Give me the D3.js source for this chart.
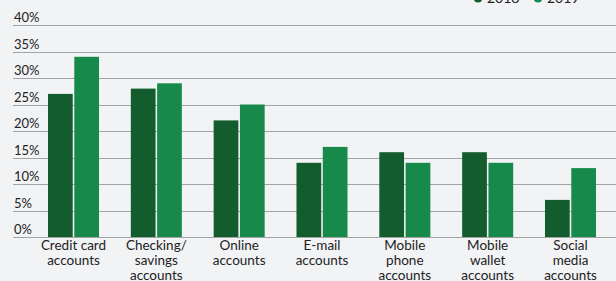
<!DOCTYPE html>
<meta charset="utf-8">
<style>
body { margin: 0; background: #f2f3f5; }
svg { display: block; font-family: "Lato", "Noto Sans", sans-serif; }
.grid line { stroke: #a3a3a3; stroke-width: 1; }
.ylab { font-size: 13px; fill: #222; }
.xlab { font-size: 13.5px; fill: #222; }
</style>
<svg width="616" height="281"></svg>
<script src="https://cdn.jsdelivr.net/npm/d3@7"></script>
<script>

// data
var categories = [
    ["Credit card", "accounts"],
    ["Checking/", "savings", "accounts"],
    ["Online", "accounts"],
    ["E-mail", "accounts"],
    ["Mobile", "phone", "accounts"],
    ["Mobile", "wallet", "accounts"],
    ["Social", "media", "accounts"]
];
var years = ["2018", "2019"];
var values2018 = [27, 28, 22, 14, 16, 16, 7];
var values2019 = [34, 29, 25, 17, 14, 14, 13];
var yTicks = [0, 5, 10, 15, 20, 25, 30, 35, 40];
var colors = ["#135c2d", "#178a4b"];

var svg = d3.select("svg");

var y = d3.scaleLinear().domain([0, 40]).range([237, 25]);

var x = d3.scaleBand()
    .domain(d3.range(categories.length))
    .range([32, 612])
    .paddingInner(0.384)
    .paddingOuter(0.193);

var x1 = d3.scaleBand()
    .domain(years)
    .range([0, x.bandwidth()])
    .paddingInner(0.06);

// grid lines + labels
var grid = svg.append("g").attr("class", "grid");
grid.selectAll("line")
    .data(yTicks)
    .enter().append("line")
    .attr("x1", 13).attr("x2", 616)
    .attr("y1", function(d) { return Math.round(y(d)) + 0.5; })
    .attr("y2", function(d) { return Math.round(y(d)) + 0.5; });

svg.append("g").selectAll("text")
    .data(yTicks)
    .enter().append("text")
    .attr("class", "ylab")
    .attr("x", 14)
    .attr("y", function(d) { return y(d) - 3; })
    .text(function(d) { return d + "%"; });

// bars
var rows = categories.map(function(c, i) {
    return { i: i, vals: [values2018[i], values2019[i]] };
});

var groups = svg.append("g").selectAll("g")
    .data(rows)
    .enter().append("g")
    .attr("transform", function(d) { return "translate(" + x(d.i) + ",0)"; });

groups.selectAll("rect")
    .data(function(d) { return d.vals.map(function(v, k) { return { year: years[k], v: v, k: k }; }); })
    .enter().append("rect")
    .attr("x", function(d) { return x1(d.year); })
    .attr("width", x1.bandwidth())
    .attr("y", function(d) { return y(d.v); })
    .attr("height", function(d) { return y(0) - y(d.v); })
    .attr("fill", function(d) { return colors[d.k]; });

// category labels
var labels = svg.append("g").selectAll("text")
    .data(categories)
    .enter().append("text")
    .attr("class", "xlab")
    .attr("text-anchor", "middle")
    .attr("x", function(d, i) { return x(i) + x.bandwidth() / 2; })
    .attr("y", 250);

labels.selectAll("tspan")
    .data(function(d) { return d; })
    .enter().append("tspan")
    .attr("x", function() { return d3.select(this.parentNode).attr("x"); })
    .attr("dy", function(d, i) { return i === 0 ? 0 : 15; })
    .text(function(d) { return d; });

// legend (cut off at the top)
var legend = svg.append("g").selectAll("g")
    .data(years)
    .enter().append("g")
    .attr("transform", function(d, i) { return "translate(" + (478 + i * 60) + ",0)"; });

legend.append("circle")
    .attr("cx", 0).attr("cy", -2).attr("r", 4.5)
    .attr("fill", function(d, i) { return colors[i]; });

legend.append("text")
    .attr("x", 9).attr("y", 3)
    .attr("font-size", 14)
    .attr("fill", "#222")
    .text(function(d) { return d; });

</script>
